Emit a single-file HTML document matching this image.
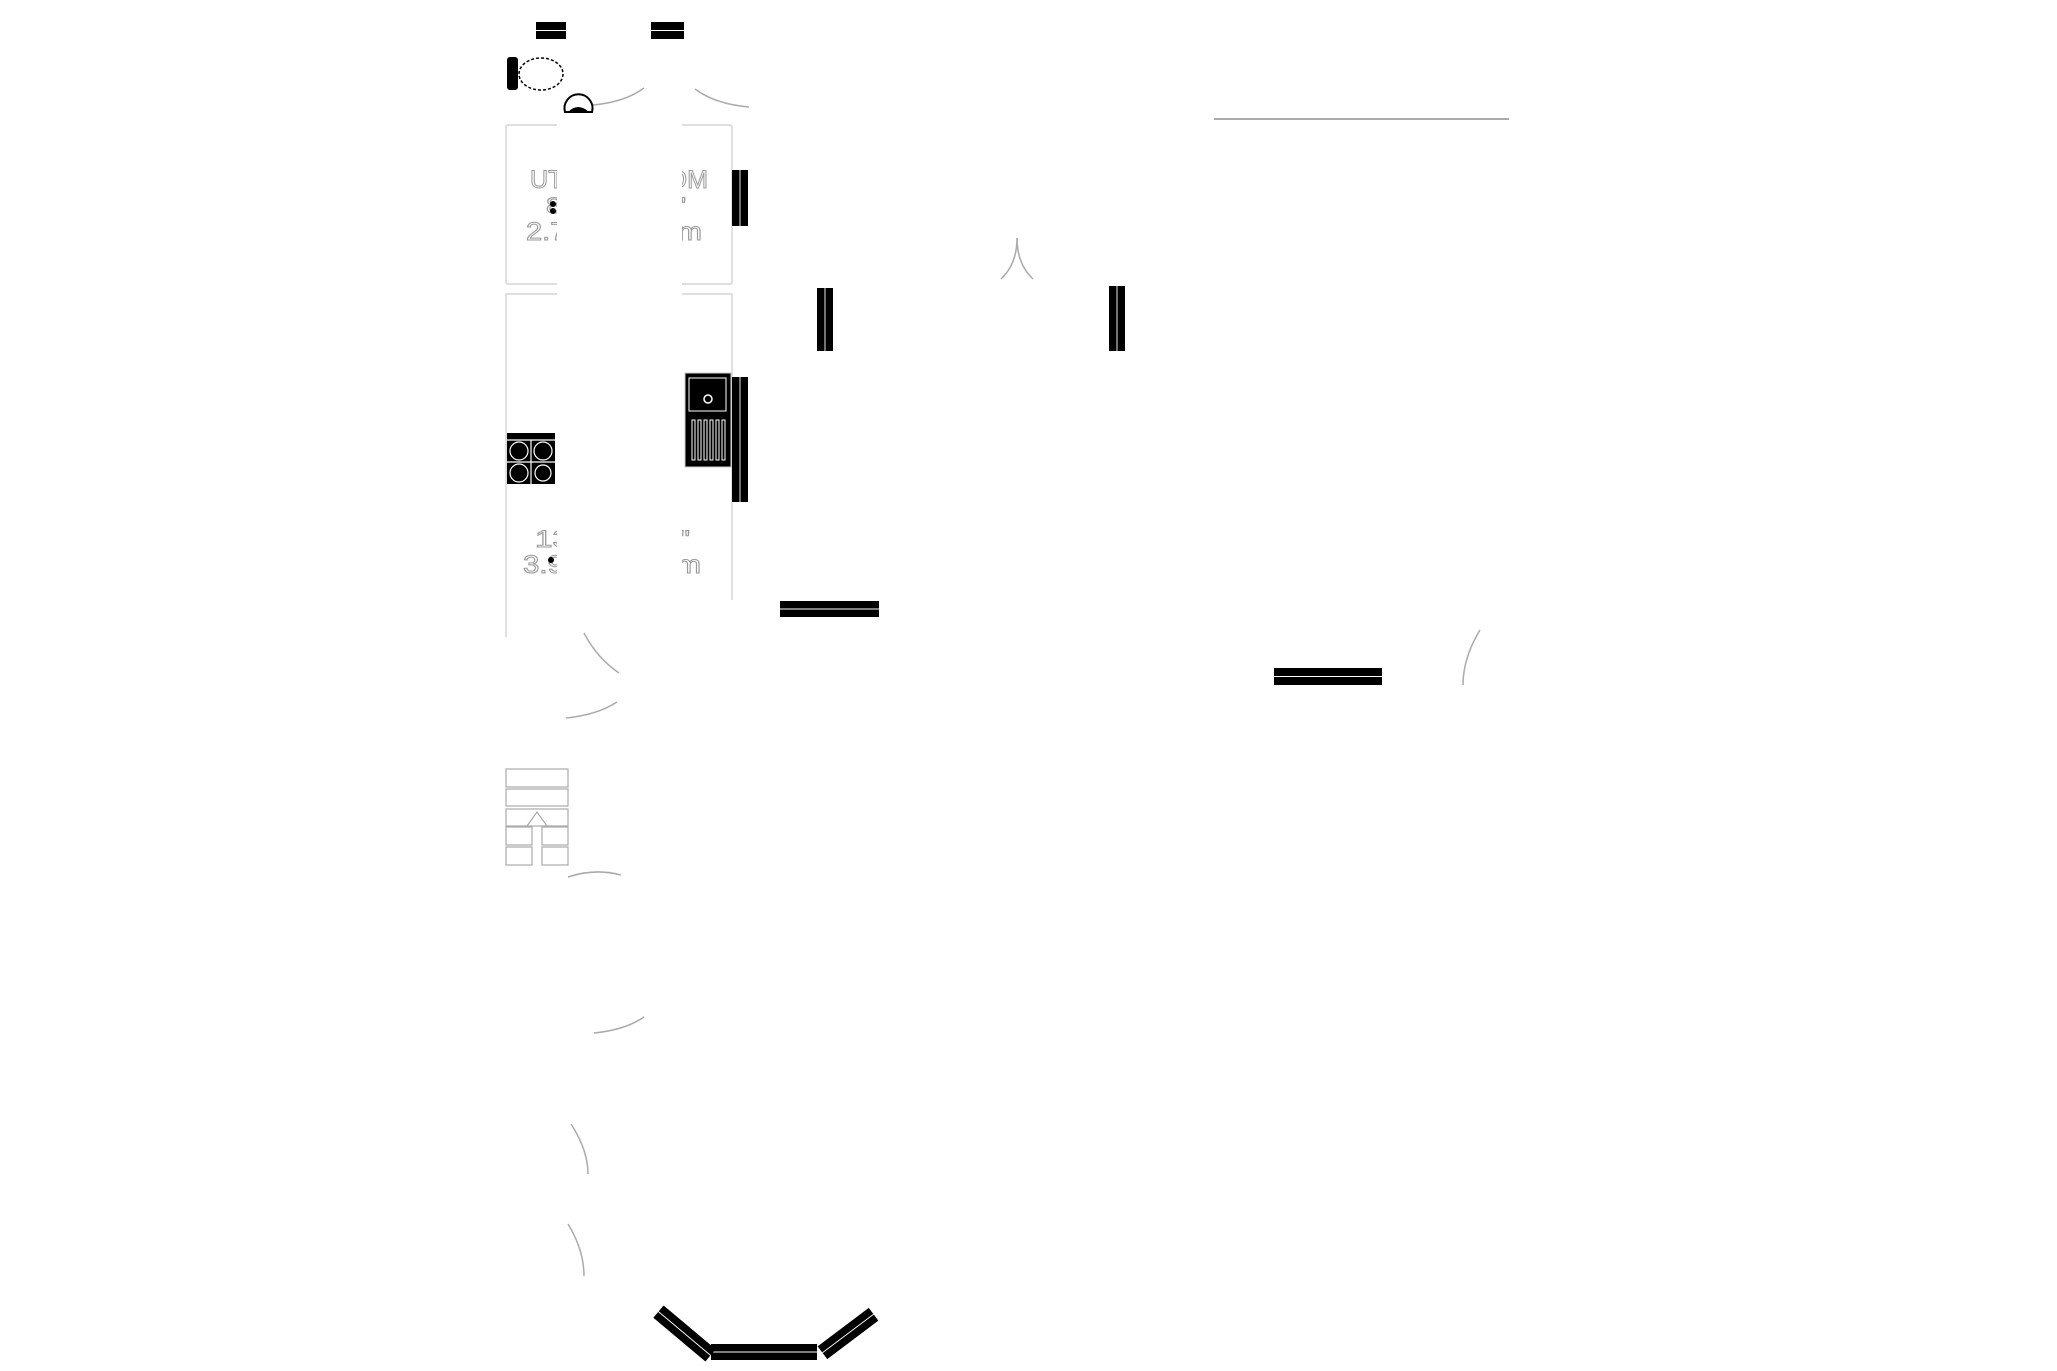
<!DOCTYPE html>
<html><head><meta charset="utf-8"><style>
html,body{margin:0;padding:0;background:#fff;}
svg{display:block;}
.t{font-family:"Liberation Sans",sans-serif;font-weight:normal;fill:#fff;stroke:#999;stroke-width:1;}
.w rect{stroke:none;}
</style></head><body>
<svg width="2057" height="1371" viewBox="0 0 2057 1371" xmlns="http://www.w3.org/2000/svg">
<rect width="2057" height="1371" fill="#fff"/>
<rect x="506" y="125" width="226" height="159" fill="none" stroke="#ccc" stroke-width="1.2" rx="2"/>
<path d="M506 637 V294 H732 V600" fill="none" stroke="#ccc" stroke-width="1.2"/>
<text class="t" x="530" y="188" font-size="25" textLength="178" lengthAdjust="spacingAndGlyphs">UTILITY ROOM</text>
<text class="t" x="546" y="213" font-size="22" textLength="140" lengthAdjust="spacingAndGlyphs">8'11" x 9'0"</text>
<text class="t" x="526" y="240" font-size="25" textLength="176" lengthAdjust="spacingAndGlyphs">2.72 x 2.74 m</text>
<text class="t" x="535" y="547" font-size="24" textLength="155" lengthAdjust="spacingAndGlyphs">13'0" x 9'0"</text>
<text class="t" x="523" y="573" font-size="25" textLength="178" lengthAdjust="spacingAndGlyphs">3.96 x 2.74 m</text>
<rect x="557" y="85" width="125" height="560" fill="#fff"/>
<circle cx="553" cy="204" r="3" fill="#000"/><circle cx="553" cy="211" r="3" fill="#000"/>
<circle cx="551" cy="560" r="3" fill="#000"/>
<g class="w" fill="#000" stroke="#fff" stroke-width="0.9">
<rect x="536" y="22" width="30" height="17"/><line x1="536" y1="30.5" x2="566" y2="30.5"/>
<rect x="651" y="22" width="33" height="17"/><line x1="651" y1="30.5" x2="684" y2="30.5"/>
<rect x="732" y="170" width="16" height="56"/><line x1="740" y1="170" x2="740" y2="226"/>
<rect x="732" y="377" width="16" height="125"/><line x1="740" y1="377" x2="740" y2="502"/>
<rect x="817" y="288" width="16" height="63"/><line x1="825" y1="288" x2="825" y2="351"/>
<rect x="1109" y="286" width="16" height="65"/><line x1="1117" y1="286" x2="1117" y2="351"/>
<rect x="780" y="601" width="99" height="16"/><line x1="780" y1="609" x2="879" y2="609"/>
<rect x="1274" y="668" width="108" height="17"/><line x1="1274" y1="676.5" x2="1382" y2="676.5"/>
<rect x="711" y="1344" width="106" height="16"/><line x1="711" y1="1352" x2="817" y2="1352"/>
<g transform="translate(684.5 1333.5) rotate(40)"><rect x="-34" y="-8" width="68" height="16"/><line x1="-34" y1="0" x2="34" y2="0"/></g>
<g transform="translate(848 1333.5) rotate(-37)"><rect x="-32" y="-8" width="64" height="16"/><line x1="-32" y1="0" x2="32" y2="0"/></g>
</g>
<line x1="1214" y1="119" x2="1509" y2="119" stroke="#aaa" stroke-width="2"/>
<g fill="none" stroke="#aaa" stroke-width="1.5">
<path d="M593 105 Q625 102 644 88"/>
<path d="M695 89 Q715 104 749 107"/>
<path d="M1017 238 Q1017 264 1001 279"/>
<path d="M1017 238 Q1017 264 1033 279"/>
<path d="M1480 630 Q1463 658 1463 685"/>
<path d="M584 633 Q597 658 619 673"/>
<path d="M566 718 Q597 715 617 702"/>
<path d="M568 877 Q595 868 621 875"/>
<path d="M594 1033 Q625 1030 644 1017"/>
<path d="M571 1124 Q588 1150 588 1174"/>
<path d="M568 1224 Q584 1250 584 1276"/>
</g>
<g fill="none" stroke="#aaa" stroke-width="1.2">
<rect x="506" y="769" width="62" height="18"/>
<rect x="506" y="789" width="62" height="17"/>
<rect x="506" y="809" width="62" height="17"/>
<rect x="506" y="827" width="26" height="18"/><rect x="542" y="827" width="26" height="18"/>
<rect x="506" y="847" width="26" height="18"/><rect x="542" y="847" width="26" height="18"/>
<path d="M527 826 L537 812 L547 826"/>
</g>
<rect x="507" y="433" width="48" height="51" fill="#000"/>
<g fill="none" stroke="#fff" stroke-width="1.2">
<circle cx="519" cy="451" r="9"/><circle cx="543" cy="451" r="9"/>
<circle cx="519" cy="473" r="9"/><circle cx="543" cy="473" r="8"/>
<line x1="531" y1="440" x2="531" y2="484"/><line x1="507" y1="462" x2="555" y2="462"/>
<line x1="507" y1="440" x2="555" y2="440"/>
</g>
<rect x="685" y="373" width="46" height="94" fill="#000" stroke="#ccc"/>
<rect x="689" y="378" width="37" height="33" fill="none" stroke="#fff"/>
<circle cx="708" cy="399" r="4" fill="none" stroke="#fff" stroke-width="1.5"/>
<g stroke="#fff" fill="none"><rect x="692" y="420" width="3" height="40"/><rect x="698" y="420" width="3" height="40"/><rect x="704" y="420" width="3" height="40"/><rect x="710" y="420" width="3" height="40"/><rect x="716" y="420" width="3" height="40"/><rect x="722" y="420" width="3" height="40"/></g>
<rect x="507" y="57" width="11" height="33" fill="#000" rx="3"/>
<ellipse cx="541" cy="74" rx="22" ry="16" fill="#fff" stroke="#000" stroke-width="1.5" stroke-dasharray="3 2"/>
<path d="M565 112 A14 14 0 1 1 592 112 Z" fill="#fff" stroke="#000" stroke-width="2"/>
<path d="M568 112 Q578 102 589 112 Z" fill="#000"/>
</svg>
</body></html>
